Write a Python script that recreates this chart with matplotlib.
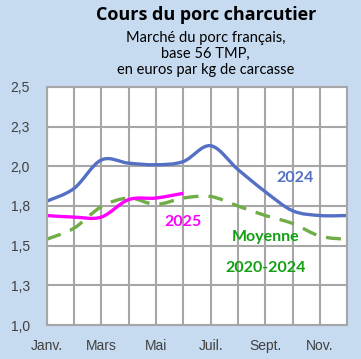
import matplotlib
matplotlib.use("Agg")
import matplotlib.pyplot as plt
from matplotlib.path import Path
from matplotlib.patches import PathPatch

# months 1..12
months = list(range(1, 13))
month_labels = ['Janv.', 'Mars', 'Mai', 'Juil.', 'Sept.', 'Nov.']
month_label_pos = [1, 3, 5, 7, 9, 11]

y_ticks = [1.0, 1.25, 1.5, 1.75, 2.0, 2.25, 2.5]
y_tick_labels = ['1,0', '1,3', '1,5', '1,8', '2,0', '2,3', '2,5']

prix_2024 = [1.78, 1.86, 2.04, 2.02, 2.01, 2.03, 2.13, 1.98, 1.84, 1.72, 1.69, 1.69]
prix_2025 = [1.69, 1.68, 1.68, 1.79, 1.80, 1.83]
moyenne = [1.54, 1.61, 1.745, 1.80, 1.76, 1.80, 1.81, 1.75, 1.69, 1.64, 1.56, 1.54]

bg = '#C6DAF0'


def smooth_path(xs, ys):
    # bezier curve through points, like the "smoothed line" of a spreadsheet
    pts = list(zip(xs, ys))
    verts = [pts[0]]
    codes = [Path.MOVETO]
    n = len(pts)
    for i in range(n - 1):
        p0 = pts[i - 1] if i > 0 else pts[i]
        p1 = pts[i]
        p2 = pts[i + 1]
        p3 = pts[i + 2] if i + 2 < n else pts[i + 1]
        c1 = (p1[0] + (p2[0] - p0[0]) / 6, p1[1] + (p2[1] - p0[1]) / 6)
        c2 = (p2[0] - (p3[0] - p1[0]) / 6, p2[1] - (p3[1] - p1[1]) / 6)
        verts += [c1, c2, p2]
        codes += [Path.CURVE4] * 3
    return Path(verts, codes)


fig = plt.figure(figsize=(3.61, 3.59), dpi=100, facecolor=bg)
ax = fig.add_axes([0.129, 0.0947, 0.833, 0.663])
ax.set_facecolor('white')

ax.set_xlim(1, 12)
ax.set_ylim(1.0, 2.5)
ax.set_xticks(months, minor=True)
ax.set_xticks(month_label_pos)
ax.set_xticklabels(month_labels)
ax.set_yticks(y_ticks)
ax.set_yticklabels(y_tick_labels)
ax.grid(True, which='both', color='#A6A6A6', linewidth=1.5)
ax.set_axisbelow(True)
for s in ax.spines.values():
    s.set_color('#A6A6A6')
    s.set_linewidth(1.5)
ax.tick_params(which='both', length=0)
ax.tick_params(axis='y', pad=12, labelsize=10, labelcolor='#404040')
ax.tick_params(axis='x', pad=10, labelsize=10, labelcolor='#404040')
for lab in ax.get_xticklabels() + ax.get_yticklabels():
    lab.set_family('Liberation Sans')

ax.add_patch(PathPatch(smooth_path(months, moyenne), fill=False, edgecolor='#70AD47',
                       linewidth=2.4, linestyle=(0, (4.5, 3)), clip_on=True))
ax.add_patch(PathPatch(smooth_path(months, prix_2024), fill=False, edgecolor='#5470C4',
                       linewidth=2.4, clip_on=True))
ax.add_patch(PathPatch(smooth_path(months[:len(prix_2025)], prix_2025), fill=False,
                       edgecolor='#FF00FF', linewidth=2.4, clip_on=True))

ax.text(10.08, 1.925, '2024', color='#5470C4', fontsize=11.5, fontweight='bold',
        family='Lato', ha='center', va='center')
ax.text(5.99, 1.65, '2025', color='#FF00FF', fontsize=11.5, fontweight='bold',
        family='Lato', ha='center', va='center')
ax.text(9.0, 1.555, 'Moyenne', color='#12A012', fontsize=11.5, fontweight='bold',
        family='Lato', ha='center', va='center')
ax.text(9.0, 1.36, '2020-2024', color='#12A012', fontsize=11.5, fontweight='bold',
        family='Lato', ha='center', va='center')

fig.text(0.571, 0.957, 'Cours du porc charcutier', fontsize=13, fontweight='bold',
         family='Open Sans', ha='center', va='center', color='black')
fig.text(0.57, 0.895, 'Marché du porc français,', fontsize=10.5, family='Lato',
         ha='center', va='center')
fig.text(0.57, 0.85, 'base 56 TMP,', fontsize=10.5, family='Lato',
         ha='center', va='center')
fig.text(0.57, 0.805, 'en euros par kg de carcasse', fontsize=10.5, family='Lato',
         ha='center', va='center')

fig.savefig('out.png', dpi=100, facecolor=bg)
